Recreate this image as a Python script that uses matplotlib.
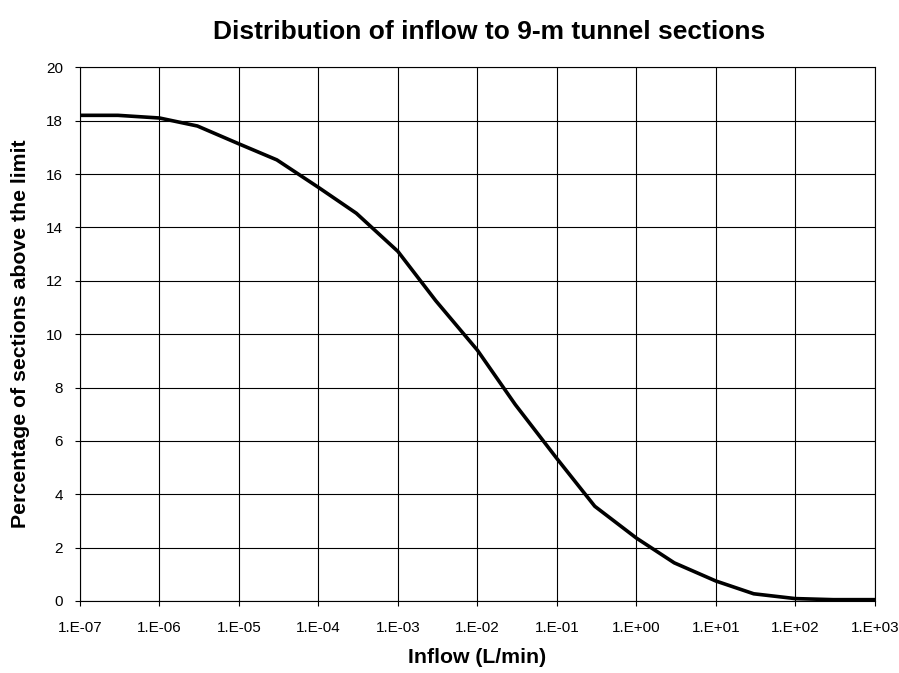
import matplotlib
matplotlib.use("Agg")
import matplotlib.pyplot as plt
from matplotlib.ticker import FuncFormatter, FixedLocator, NullLocator
import numpy as np

plt.rcParams['font.family'] = ['Liberation Sans', 'DejaVu Sans']

inflow = [1e-7, 3e-7, 1e-6, 3e-6, 1e-5, 3e-5, 1e-4, 3e-4, 1e-3, 3e-3, 1e-2,
          3e-2, 1e-1, 3e-1, 1e0, 3e0, 1e1, 3e1, 1e2, 3e2, 1e3]
percent = [18.2, 18.2, 18.1, 17.8, 17.13, 16.53, 15.5, 14.53, 13.1, 11.25, 9.4,
           7.36, 5.34, 3.55, 2.36, 1.43, 0.75, 0.27, 0.09, 0.05, 0.05]
x_ticks = [10.0 ** e for e in range(-7, 4)]
y_ticks = list(range(0, 21, 2))

fig = plt.figure(figsize=(8.99, 6.73), dpi=100)
ax = fig.add_axes([0.089, 0.107, 0.884, 0.793])
ax.plot(inflow, percent, color='black', linewidth=2.6, solid_joinstyle='miter')
ax.set_xscale('log')
ax.set_xlim(1e-7, 1e3)
ax.set_ylim(0, 20)
ax.xaxis.set_major_locator(FixedLocator(x_ticks))
ax.xaxis.set_minor_locator(NullLocator())
ax.xaxis.set_major_formatter(FuncFormatter(lambda v, p: "1.E%+03d" % int(round(np.log10(v)))))
ax.set_yticks(y_ticks)
ax.grid(True, color='black', linewidth=0.8)
for s in ax.spines.values():
    s.set_color('black')
    s.set_linewidth(0.8)
ax.tick_params(direction='out', length=3.6, width=0.8, labelsize=11)
ax.tick_params(axis='x', pad=11)
ax.tick_params(axis='y', pad=8.6)
ax.set_xlabel('Inflow (L/min)', fontsize=15.3, fontweight='bold')
ax.xaxis.set_label_coords(0.5, -0.105)
ax.xaxis.label.set_va('center')
ax.set_ylabel('Percentage of sections above the limit', fontsize=15.3, fontweight='bold')
ax.yaxis.set_label_coords(-60 / 795, 0.5)
ax.yaxis.label.set_va('center')
fig.text(489 / 899, 1 - 32 / 673, 'Distribution of inflow to 9-m tunnel sections',
         fontsize=19, fontweight='bold', ha='center', va='center')
fig.savefig('out.png', dpi=100)
